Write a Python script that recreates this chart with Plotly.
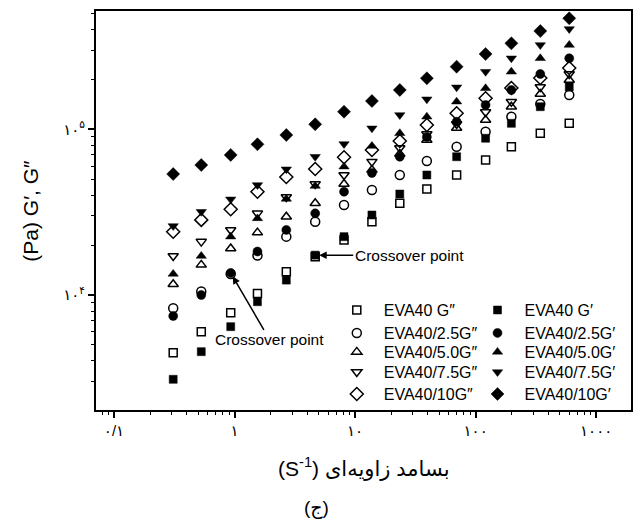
import math
import plotly.graph_objects as go

# Angular frequency (rad/s)
freq = [0.31, 0.53, 0.93, 1.55, 2.69, 4.67, 8.1, 13.8, 23.5, 39.4, 69.6, 121, 198, 344, 598]

# Loss modulus G'' (Pa)
g2_eva40 = [4490, 6010, 7820, 10200, 13800, 17000, 21500, 27700, 35800, 43600, 53000, 65300, 78500, 94600, 108700]
g2_25 = [8310, 10500, 13400, 17300, 22500, 27700, 34900, 43000, 53000, 64400, 78500, 96700, 119100, 142100, 161100]
g2_50 = [11600, 15200, 19100, 23800, 29700, 35800, 46800, 56800, 70900, 86200, 101800, 113800, 136900, 163300, 198400]
g2_75 = [17200, 21000, 24700, 31100, 39000, 46700, 53000, 63800, 77100, 93700, 107600, 127200, 146800, 180000, 215700]
g2_10 = [24100, 28400, 32900, 42000, 51500, 57600, 67800, 75000, 85000, 106200, 124900, 153900, 177600, 204000, 234400]

# Storage modulus G' (Pa)
g1_eva40 = [3100, 4550, 6440, 9110, 12300, 17400, 22500, 30400, 40700, 53000, 68300, 88300, 108700, 136900, 180000]
g1_25 = [7470, 10000, 13600, 18300, 24700, 31100, 42000, 54500, 68300, 89800, 111100, 140200, 172700, 215700, 268300]
g1_50 = [13400, 17200, 22500, 29000, 38000, 45500, 59500, 79300, 94600, 119100, 146800, 176800, 222600, 268200, 322800]
g1_75 = [26100, 31800, 37800, 46100, 57400, 68300, 81500, 101400, 122000, 151800, 179300, 222600, 268300, 322800, 403000]
g1_10 = [53700, 60900, 70000, 81200, 92400, 107200, 127700, 148200, 172700, 203200, 238700, 284700, 330400, 391900, 467400]

names_g2 = ["EVA40 G″", "EVA40/2.5G″", "EVA40/5.0G″", "EVA40/7.5G″", "EVA40/10G″"]
names_g1 = ["EVA40 G′", "EVA40/2.5G′", "EVA40/5.0G′", "EVA40/7.5G′", "EVA40/10G′"]
series_g2 = [g2_eva40, g2_25, g2_50, g2_75, g2_10]
series_g1 = [g1_eva40, g1_25, g1_50, g1_75, g1_10]

x_tickvals = [0.1, 1, 10, 100, 1000]
x_ticktext = ["۰/۱", "۱", "۱۰", "۱۰۰", "۱۰۰۰"]
y_tickvals = [1e4, 1e5]
y_ticktext = ["۱۰<sup>۴</sup>", "۱۰<sup>۵</sup>"]

symbols = ["square", "circle", "triangle-up", "triangle-down", "diamond"]
sizes = [8, 9, 9, 9, 10]

FONT = "Liberation Sans, Arial, DejaVu Sans, sans-serif"

# legend row tops (paper fraction) and column lefts
row_tops = [0.293, 0.2355, 0.188, 0.1375, 0.0825]
col_left = [0.437, 0.700]

fig = go.Figure()
legend_layout = {}
legend_common = dict(
    bgcolor="rgba(0,0,0,0)", borderwidth=0, xanchor="left", yanchor="top",
    font=dict(family=FONT, size=16, color="black"), itemwidth=44,
)
k = 0
for col, (names, series, openm) in enumerate([(names_g2, series_g2, True), (names_g1, series_g1, False)]):
    for i in range(5):
        k += 1
        lname = "legend" if k == 1 else "legend%d" % k
        fig.add_trace(go.Scatter(
            x=freq, y=series[i], mode="markers", name=names[i], legend=lname,
            marker=dict(symbol=symbols[i] + ("-open" if openm else ""), size=sizes[i],
                        color="black", line=dict(color="black", width=1.5 if openm else 0.5)),
        ))
        legend_layout[lname] = dict(x=col_left[col], y=row_tops[i], **legend_common)

x_minor = [m * 10 ** d for d in range(-2, 4) for m in range(2, 10)]
y_minor = [m * 10 ** d for d in range(3, 6) for m in range(2, 10)]

fig.update_xaxes(
    type="log", range=[-1.149, 3.289],
    tickmode="array", tickvals=x_tickvals, ticktext=x_ticktext,
    ticks="outside", ticklen=6, tickwidth=1.5, tickcolor="black",
    minor=dict(tickmode="array", tickvals=x_minor, ticks="outside", ticklen=3,
               tickwidth=1.2, tickcolor="black", showgrid=False),
    showline=True, linewidth=2, linecolor="black", mirror=True,
    showgrid=False, zeroline=False,
    tickfont=dict(family=FONT, size=15, color="black"),
)
fig.update_yaxes(
    type="log", range=[3.306, 5.714],
    tickmode="array", tickvals=y_tickvals, ticktext=y_ticktext,
    ticks="outside", ticklen=6, tickwidth=1.5, tickcolor="black",
    minor=dict(tickmode="array", tickvals=y_minor, ticks="outside", ticklen=3,
               tickwidth=1.2, tickcolor="black", showgrid=False),
    showline=True, linewidth=2, linecolor="black", mirror=True,
    showgrid=False, zeroline=False,
    tickfont=dict(family=FONT, size=15, color="black"),
)

annotations = [
    dict(x=math.log10(freq[5]), y=math.log10(g1_eva40[5]), xref="x", yref="y",
         text="Crossover point", showarrow=True, ax=94, ay=0,
         arrowhead=2, arrowsize=1, arrowwidth=1.5, arrowcolor="black", standoff=4,
         font=dict(family=FONT, size=15.5, color="black")),
    dict(x=math.log10(freq[2]), y=math.log10(g1_25[2]), xref="x", yref="y",
         text="Crossover point", showarrow=True, ax=39, ay=67,
         arrowhead=2, arrowsize=1, arrowwidth=1.5, arrowcolor="black", standoff=4,
         font=dict(family=FONT, size=15.5, color="black")),
    dict(x=-0.123, y=0.5, xref="paper", yref="paper", text="(Pa) G′, G″",
         textangle=-90, showarrow=False, xanchor="center", yanchor="middle",
         font=dict(family=FONT, size=21, color="black")),
    dict(x=0.5, y=-0.145, xref="paper", yref="paper",
         text="(S<sup>-1</sup>) بسامد زاویه‌ای",
         showarrow=False, xanchor="center", yanchor="middle",
         font=dict(family=FONT, size=21, color="black")),
    dict(x=0.413, y=-0.245, xref="paper", yref="paper", text="(ج)",
         showarrow=False, xanchor="center", yanchor="middle",
         font=dict(family=FONT, size=19, color="black")),
]

fig.update_layout(
    width=640, height=523,
    margin=dict(l=96, r=7, t=11, b=113),
    paper_bgcolor="white", plot_bgcolor="white",
    showlegend=True,
    annotations=annotations,
    font=dict(family=FONT, color="black"),
    **legend_layout,
)

fig.write_html("out.html")
